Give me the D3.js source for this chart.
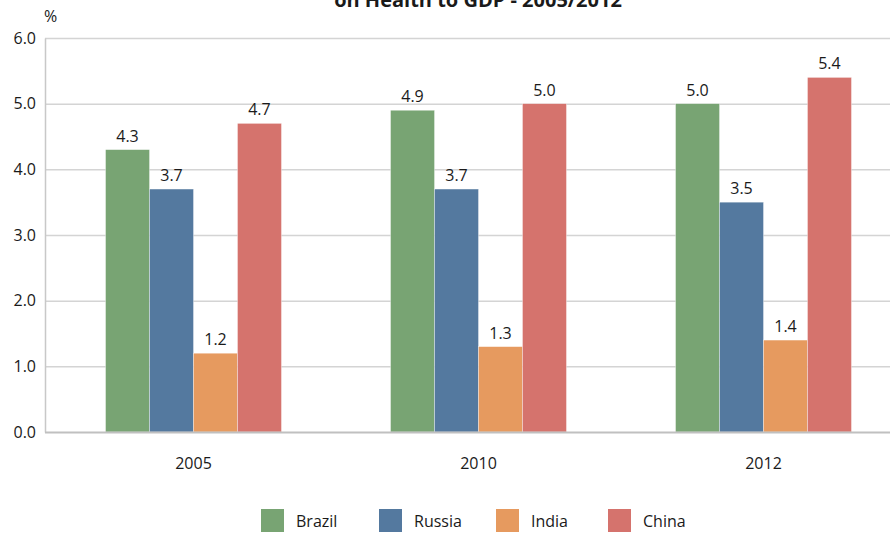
<!DOCTYPE html>
<html>
<head>
<meta charset="utf-8">
<script src="https://cdn.jsdelivr.net/npm/d3@7"></script>
<style>
  body { margin: 0; background: #fff; }
  svg { display: block; }
  text { font-family: "Open Sans", sans-serif; fill: #1a1a1a; }
</style>
</head>
<body>
<div id="chart"></div>
<script>
// data
var years = ["2005", "2010", "2012"];
var countries = ["Brazil", "Russia", "India", "China"];
var brazil = [4.3, 4.9, 5.0];
var russia = [3.7, 3.7, 3.5];
var india = [1.2, 1.3, 1.4];
var china = [4.7, 5.0, 5.4];
var colors = ["#78a473", "#54799f", "#e69a5f", "#d5736d"];
var yTicks = [0, 1, 2, 3, 4, 5, 6];

var series = [brazil, russia, india, china];

var width = 890, height = 535;
var margin = {top: 38, left: 45, bottom: 103};

var svg = d3.select("#chart").append("svg")
    .attr("width", width)
    .attr("height", height);

//Scales
var x0 = d3.scaleBand().domain(years).range([51, 906]).padding(0);
var x1 = d3.scaleBand().domain(countries).range([0, x0.bandwidth()])
    .paddingInner(0).paddingOuter(1.24);
var y = d3.scaleLinear().domain([0, 6]).range([height - margin.bottom, margin.top]);
var color = d3.scaleOrdinal().domain(countries).range(colors);

//Title (cut off at top, as in the source picture)
svg.append("text")
    .attr("x", 478).attr("y", 7)
    .attr("text-anchor", "middle")
    .style("font-weight", "bold")
    .style("font-size", "20px")
    .text("on Health to GDP - 2005/2012");

//Grid
svg.append("g").selectAll("line")
    .data(yTicks.filter(function(d){ return d > 0; }))
    .enter().append("line")
    .attr("x1", margin.left).attr("x2", width)
    .attr("y1", function(d){ return y(d) + 0.5; })
    .attr("y2", function(d){ return y(d) + 0.5; })
    .style("stroke", "#d4d4d4").style("stroke-width", 1.5);

//Y axis
var yAxis = svg.append("g")
    .attr("transform", "translate(" + margin.left + ",0)")
    .call(d3.axisLeft(y).tickValues(yTicks).tickFormat(d3.format(".1f")).tickSize(0).tickPadding(9));
yAxis.select(".domain").style("stroke", "#c8c8c8").style("stroke-width", 1.5);
yAxis.selectAll("text").style("font-size", "16px").style("font-family", "Open Sans");

svg.append("text")
    .attr("x", 44).attr("y", 22)
    .style("font-size", "16px")
    .text("%");

//Bars
var groups = svg.append("g").selectAll("g")
    .data(years)
    .enter().append("g")
    .attr("transform", function(d){ return "translate(" + x0(d) + ",0)"; });

groups.selectAll("rect")
    .data(function(d, i){ return countries.map(function(c, j){ return {c: c, v: series[j][i]}; }); })
    .enter().append("rect")
    .attr("x", function(d){ return x1(d.c); })
    .attr("width", x1.bandwidth())
    .attr("y", function(d){ return y(d.v); })
    .attr("height", function(d){ return y(0) - y(d.v); })
    .style("fill", function(d){ return color(d.c); })
    .style("stroke", "#ffffff").style("stroke-width", 0.6).style("stroke-opacity", 0.6);

groups.selectAll(".lbl")
    .data(function(d, i){ return countries.map(function(c, j){ return {c: c, v: series[j][i]}; }); })
    .enter().append("text")
    .attr("class", "lbl")
    .attr("x", function(d){ return x1(d.c) + x1.bandwidth() / 2; })
    .attr("y", function(d){ return y(d.v) - 8; })
    .attr("text-anchor", "middle")
    .style("font-size", "16px")
    .text(function(d){ return d3.format(".1f")(d.v); });

//X axis
var xAxis = svg.append("g")
    .attr("transform", "translate(0," + y(0) + ")")
    .call(d3.axisBottom(x0).tickSize(0).tickPadding(26));
xAxis.select(".domain").remove();
xAxis.selectAll("text").style("font-size", "16px").style("font-family", "Open Sans");
svg.append("line")
    .attr("x1", margin.left).attr("x2", width)
    .attr("y1", y(0) + 0.5).attr("y2", y(0) + 0.5)
    .style("stroke", "#c0c0c0").style("stroke-width", 2);

//Legend
var legendX = [261, 379, 496, 608];
var legend = svg.append("g").selectAll("g")
    .data(countries)
    .enter().append("g")
    .attr("transform", function(d, i){ return "translate(" + legendX[i] + ",509)"; });
legend.append("rect")
    .attr("width", 23).attr("height", 23)
    .style("fill", function(d){ return color(d); });
legend.append("text")
    .attr("x", 35).attr("y", 18)
    .style("font-size", "16px")
    .text(function(d){ return d; });
</script>
</body>
</html>
